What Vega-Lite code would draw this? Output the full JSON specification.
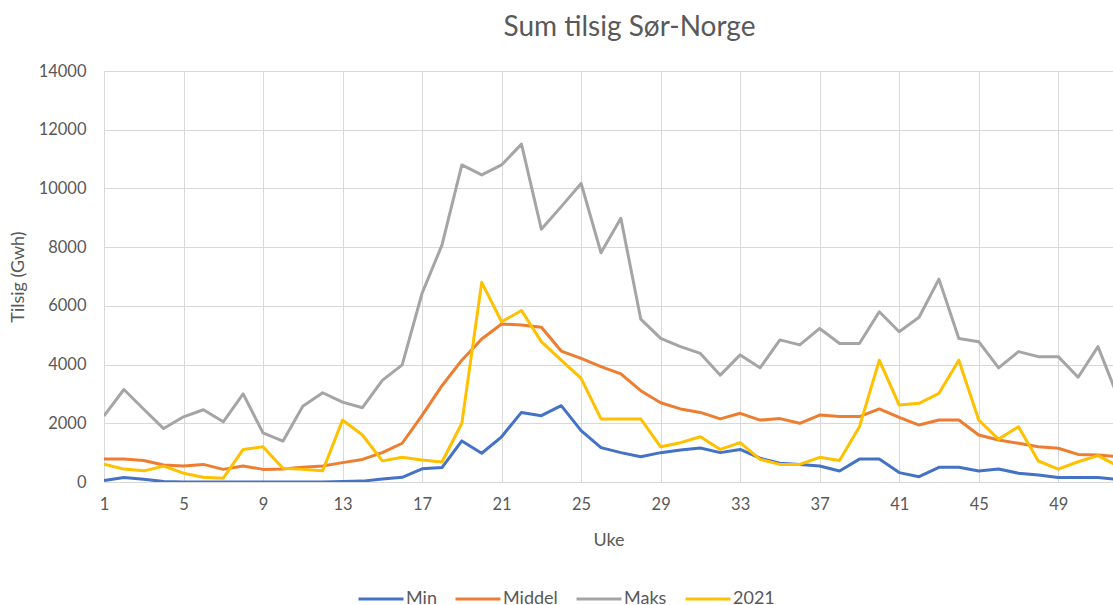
{
  "$schema": "https://vega.github.io/schema/vega-lite/v6.json",
  "autosize": {"type": "none"},
  "width": 1009,
  "height": 411,
  "padding": {"left": 104, "top": 71, "right": 0, "bottom": 123},
  "background": "white",
  "title": {"text": "Sum tilsig Sør-Norge", "font": "Lato", "fontSize": 28, "fontWeight": "normal", "color": "#595959", "frame": "group", "anchor": "middle", "dx": 21, "dy": 35, "baseline": "alphabetic", "offset": 34},
  "data": {"values": [
    {"uke":1,"serie":"Min","tilsig":50},{"uke":2,"serie":"Min","tilsig":150},{"uke":3,"serie":"Min","tilsig":90},{"uke":4,"serie":"Min","tilsig":20},{"uke":5,"serie":"Min","tilsig":0},{"uke":6,"serie":"Min","tilsig":0},{"uke":7,"serie":"Min","tilsig":0},{"uke":8,"serie":"Min","tilsig":0},{"uke":9,"serie":"Min","tilsig":0},{"uke":10,"serie":"Min","tilsig":0},{"uke":11,"serie":"Min","tilsig":0},{"uke":12,"serie":"Min","tilsig":0},{"uke":13,"serie":"Min","tilsig":20},{"uke":14,"serie":"Min","tilsig":30},{"uke":15,"serie":"Min","tilsig":100},{"uke":16,"serie":"Min","tilsig":160},{"uke":17,"serie":"Min","tilsig":450},{"uke":18,"serie":"Min","tilsig":490},{"uke":19,"serie":"Min","tilsig":1400},{"uke":20,"serie":"Min","tilsig":980},{"uke":21,"serie":"Min","tilsig":1540},{"uke":22,"serie":"Min","tilsig":2370},{"uke":23,"serie":"Min","tilsig":2260},{"uke":24,"serie":"Min","tilsig":2600},{"uke":25,"serie":"Min","tilsig":1750},{"uke":26,"serie":"Min","tilsig":1170},{"uke":27,"serie":"Min","tilsig":1000},{"uke":28,"serie":"Min","tilsig":860},{"uke":29,"serie":"Min","tilsig":1000},{"uke":30,"serie":"Min","tilsig":1090},{"uke":31,"serie":"Min","tilsig":1160},{"uke":32,"serie":"Min","tilsig":1000},{"uke":33,"serie":"Min","tilsig":1110},{"uke":34,"serie":"Min","tilsig":810},{"uke":35,"serie":"Min","tilsig":640},{"uke":36,"serie":"Min","tilsig":600},{"uke":37,"serie":"Min","tilsig":545},{"uke":38,"serie":"Min","tilsig":375},{"uke":39,"serie":"Min","tilsig":780},{"uke":40,"serie":"Min","tilsig":780},{"uke":41,"serie":"Min","tilsig":320},{"uke":42,"serie":"Min","tilsig":180},{"uke":43,"serie":"Min","tilsig":500},{"uke":44,"serie":"Min","tilsig":500},{"uke":45,"serie":"Min","tilsig":375},{"uke":46,"serie":"Min","tilsig":440},{"uke":47,"serie":"Min","tilsig":300},{"uke":48,"serie":"Min","tilsig":240},{"uke":49,"serie":"Min","tilsig":150},{"uke":50,"serie":"Min","tilsig":150},{"uke":51,"serie":"Min","tilsig":150},{"uke":52,"serie":"Min","tilsig":90},
    {"uke":1,"serie":"Middel","tilsig":780},{"uke":2,"serie":"Middel","tilsig":780},{"uke":3,"serie":"Middel","tilsig":730},{"uke":4,"serie":"Middel","tilsig":580},{"uke":5,"serie":"Middel","tilsig":545},{"uke":6,"serie":"Middel","tilsig":600},{"uke":7,"serie":"Middel","tilsig":430},{"uke":8,"serie":"Middel","tilsig":545},{"uke":9,"serie":"Middel","tilsig":430},{"uke":10,"serie":"Middel","tilsig":440},{"uke":11,"serie":"Middel","tilsig":500},{"uke":12,"serie":"Middel","tilsig":545},{"uke":13,"serie":"Middel","tilsig":660},{"uke":14,"serie":"Middel","tilsig":770},{"uke":15,"serie":"Middel","tilsig":1000},{"uke":16,"serie":"Middel","tilsig":1320},{"uke":17,"serie":"Middel","tilsig":2270},{"uke":18,"serie":"Middel","tilsig":3280},{"uke":19,"serie":"Middel","tilsig":4150},{"uke":20,"serie":"Middel","tilsig":4870},{"uke":21,"serie":"Middel","tilsig":5380},{"uke":22,"serie":"Middel","tilsig":5350},{"uke":23,"serie":"Middel","tilsig":5270},{"uke":24,"serie":"Middel","tilsig":4460},{"uke":25,"serie":"Middel","tilsig":4210},{"uke":26,"serie":"Middel","tilsig":3930},{"uke":27,"serie":"Middel","tilsig":3680},{"uke":28,"serie":"Middel","tilsig":3110},{"uke":29,"serie":"Middel","tilsig":2700},{"uke":30,"serie":"Middel","tilsig":2490},{"uke":31,"serie":"Middel","tilsig":2370},{"uke":32,"serie":"Middel","tilsig":2150},{"uke":33,"serie":"Middel","tilsig":2340},{"uke":34,"serie":"Middel","tilsig":2110},{"uke":35,"serie":"Middel","tilsig":2160},{"uke":36,"serie":"Middel","tilsig":2000},{"uke":37,"serie":"Middel","tilsig":2280},{"uke":38,"serie":"Middel","tilsig":2230},{"uke":39,"serie":"Middel","tilsig":2230},{"uke":40,"serie":"Middel","tilsig":2490},{"uke":41,"serie":"Middel","tilsig":2200},{"uke":42,"serie":"Middel","tilsig":1940},{"uke":43,"serie":"Middel","tilsig":2110},{"uke":44,"serie":"Middel","tilsig":2110},{"uke":45,"serie":"Middel","tilsig":1600},{"uke":46,"serie":"Middel","tilsig":1430},{"uke":47,"serie":"Middel","tilsig":1320},{"uke":48,"serie":"Middel","tilsig":1200},{"uke":49,"serie":"Middel","tilsig":1150},{"uke":50,"serie":"Middel","tilsig":940},{"uke":51,"serie":"Middel","tilsig":920},{"uke":52,"serie":"Middel","tilsig":860},
    {"uke":1,"serie":"Maks","tilsig":2250},{"uke":2,"serie":"Maks","tilsig":3150},{"uke":3,"serie":"Maks","tilsig":2480},{"uke":4,"serie":"Maks","tilsig":1820},{"uke":5,"serie":"Maks","tilsig":2220},{"uke":6,"serie":"Maks","tilsig":2460},{"uke":7,"serie":"Maks","tilsig":2050},{"uke":8,"serie":"Maks","tilsig":3000},{"uke":9,"serie":"Maks","tilsig":1670},{"uke":10,"serie":"Maks","tilsig":1390},{"uke":11,"serie":"Maks","tilsig":2580},{"uke":12,"serie":"Maks","tilsig":3040},{"uke":13,"serie":"Maks","tilsig":2720},{"uke":14,"serie":"Maks","tilsig":2530},{"uke":15,"serie":"Maks","tilsig":3460},{"uke":16,"serie":"Maks","tilsig":3990},{"uke":17,"serie":"Maks","tilsig":6430},{"uke":18,"serie":"Maks","tilsig":8070},{"uke":19,"serie":"Maks","tilsig":10800},{"uke":20,"serie":"Maks","tilsig":10460},{"uke":21,"serie":"Maks","tilsig":10800},{"uke":22,"serie":"Maks","tilsig":11510},{"uke":23,"serie":"Maks","tilsig":8610},{"uke":24,"serie":"Maks","tilsig":9380},{"uke":25,"serie":"Maks","tilsig":10170},{"uke":26,"serie":"Maks","tilsig":7810},{"uke":27,"serie":"Maks","tilsig":8980},{"uke":28,"serie":"Maks","tilsig":5550},{"uke":29,"serie":"Maks","tilsig":4890},{"uke":30,"serie":"Maks","tilsig":4610},{"uke":31,"serie":"Maks","tilsig":4380},{"uke":32,"serie":"Maks","tilsig":3640},{"uke":33,"serie":"Maks","tilsig":4330},{"uke":34,"serie":"Maks","tilsig":3890},{"uke":35,"serie":"Maks","tilsig":4840},{"uke":36,"serie":"Maks","tilsig":4670},{"uke":37,"serie":"Maks","tilsig":5230},{"uke":38,"serie":"Maks","tilsig":4720},{"uke":39,"serie":"Maks","tilsig":4720},{"uke":40,"serie":"Maks","tilsig":5800},{"uke":41,"serie":"Maks","tilsig":5120},{"uke":42,"serie":"Maks","tilsig":5610},{"uke":43,"serie":"Maks","tilsig":6910},{"uke":44,"serie":"Maks","tilsig":4890},{"uke":45,"serie":"Maks","tilsig":4780},{"uke":46,"serie":"Maks","tilsig":3890},{"uke":47,"serie":"Maks","tilsig":4440},{"uke":48,"serie":"Maks","tilsig":4270},{"uke":49,"serie":"Maks","tilsig":4270},{"uke":50,"serie":"Maks","tilsig":3570},{"uke":51,"serie":"Maks","tilsig":4610},{"uke":52,"serie":"Maks","tilsig":2900},
    {"uke":1,"serie":"2021","tilsig":610},{"uke":2,"serie":"2021","tilsig":440},{"uke":3,"serie":"2021","tilsig":380},{"uke":4,"serie":"2021","tilsig":540},{"uke":5,"serie":"2021","tilsig":300},{"uke":6,"serie":"2021","tilsig":160},{"uke":7,"serie":"2021","tilsig":130},{"uke":8,"serie":"2021","tilsig":1110},{"uke":9,"serie":"2021","tilsig":1200},{"uke":10,"serie":"2021","tilsig":470},{"uke":11,"serie":"2021","tilsig":430},{"uke":12,"serie":"2021","tilsig":380},{"uke":13,"serie":"2021","tilsig":2110},{"uke":14,"serie":"2021","tilsig":1600},{"uke":15,"serie":"2021","tilsig":720},{"uke":16,"serie":"2021","tilsig":840},{"uke":17,"serie":"2021","tilsig":750},{"uke":18,"serie":"2021","tilsig":680},{"uke":19,"serie":"2021","tilsig":2000},{"uke":20,"serie":"2021","tilsig":6800},{"uke":21,"serie":"2021","tilsig":5460},{"uke":22,"serie":"2021","tilsig":5840},{"uke":23,"serie":"2021","tilsig":4780},{"uke":24,"serie":"2021","tilsig":4150},{"uke":25,"serie":"2021","tilsig":3530},{"uke":26,"serie":"2021","tilsig":2150},{"uke":27,"serie":"2021","tilsig":2150},{"uke":28,"serie":"2021","tilsig":2150},{"uke":29,"serie":"2021","tilsig":1200},{"uke":30,"serie":"2021","tilsig":1340},{"uke":31,"serie":"2021","tilsig":1540},{"uke":32,"serie":"2021","tilsig":1110},{"uke":33,"serie":"2021","tilsig":1340},{"uke":34,"serie":"2021","tilsig":770},{"uke":35,"serie":"2021","tilsig":600},{"uke":36,"serie":"2021","tilsig":600},{"uke":37,"serie":"2021","tilsig":840},{"uke":38,"serie":"2021","tilsig":730},{"uke":39,"serie":"2021","tilsig":1880},{"uke":40,"serie":"2021","tilsig":4150},{"uke":41,"serie":"2021","tilsig":2620},{"uke":42,"serie":"2021","tilsig":2680},{"uke":43,"serie":"2021","tilsig":3020},{"uke":44,"serie":"2021","tilsig":4150},{"uke":45,"serie":"2021","tilsig":2110},{"uke":46,"serie":"2021","tilsig":1460},{"uke":47,"serie":"2021","tilsig":1880},{"uke":48,"serie":"2021","tilsig":715},{"uke":49,"serie":"2021","tilsig":440},{"uke":50,"serie":"2021","tilsig":690},{"uke":51,"serie":"2021","tilsig":900},{"uke":52,"serie":"2021","tilsig":545}
  ]},
  "mark": {"type": "line", "strokeWidth": 3, "clip": true, "strokeJoin": "round"},
  "encoding": {
    "x": {
      "field": "uke", "type": "quantitative",
      "scale": {"domain": [1, 51.755], "nice": false, "zero": false},
      "axis": {"values": [1,5,9,13,17,21,25,29,33,37,41,45,49], "format": "d", "title": "Uke", "labelFlush": false, "domain": true, "domainColor": "#d9d9d9", "domainWidth": 1, "titleY": 58, "titleBaseline": "middle", "labelPadding": 14}
    },
    "y": {
      "field": "tilsig", "type": "quantitative",
      "scale": {"domain": [0, 14000], "nice": false},
      "axis": {"values": [0,2000,4000,6000,8000,10000,12000,14000], "format": "d", "title": "Tilsig (Gwh)", "domain": false, "labelPadding": 18, "titleX": -86, "titleBaseline": "middle"}
    },
    "color": {
      "field": "serie", "type": "nominal",
      "scale": {"domain": ["Min", "Middel", "Maks", "2021"], "range": ["#4472C4", "#ED7D31", "#A5A5A5", "#FFC000"]},
      "legend": {"title": null, "orient": "none", "legendX": 253, "legendY": 504, "direction": "horizontal", "symbolType": "stroke", "symbolSize": 2025, "symbolStrokeWidth": 3, "labelFont": "Lato", "labelFontSize": 18, "labelColor": "#595959", "labelOffset": 1, "columnPadding": 12, "padding": 0}
    }
  },
  "config": {
    "view": {"stroke": null},
    "axis": {"grid": true, "gridColor": "#d9d9d9", "gridWidth": 1, "ticks": false, "labelFont": "Lato", "labelFontSize": 16.5, "labelColor": "#595959", "titleFont": "Lato", "titleFontSize": 18, "titleFontWeight": "normal", "titleColor": "#595959"}
  }
}
